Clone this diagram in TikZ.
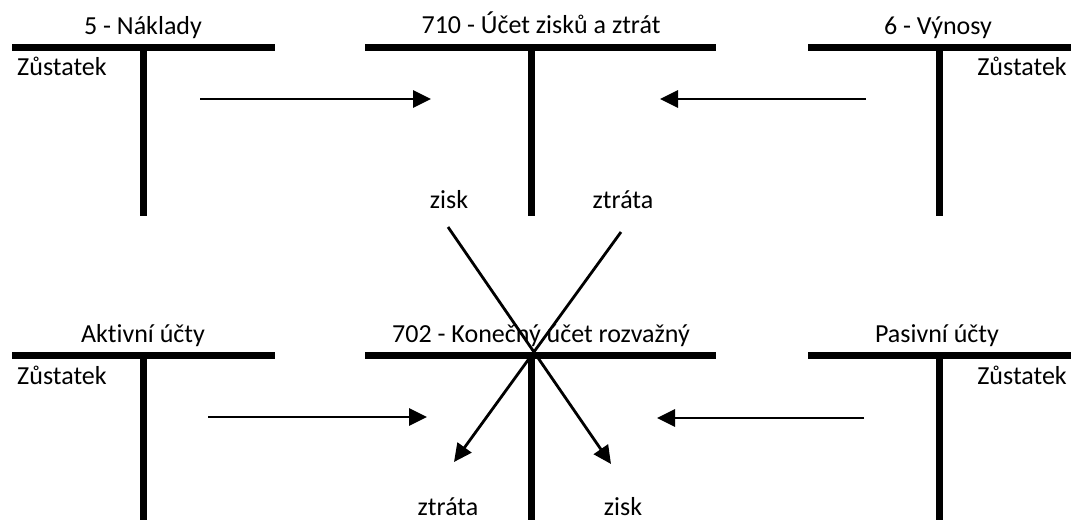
\documentclass[tikz,border=0pt]{standalone}
\usepackage{fontspec}
\setmainfont[Ligatures=NoCommon]{Carlito}
\usetikzlibrary{arrows.meta}
\begin{document}
\begin{tikzpicture}[x=1pt,y=-1pt,
  tbar/.style={line width=7pt},
  flow/.style={line width=2.8pt,-{Triangle[length=18pt,width=17pt]}},
  lbl/.style={anchor=base,inner sep=0pt,font=\fontsize{26}{30}\selectfont}]
\useasboundingbox (0,0) rectangle (1071,520);

% T-accounts: crossbar and stem
\draw[tbar] (12,47) -- (275,47) (143,47) -- (143,216);
\draw[tbar] (365,47) -- (716,47) (531,47) -- (531,216);
\draw[tbar] (808,47) -- (1071,47) (939,47) -- (939,216);
\draw[tbar] (12,355) -- (275,355) (143,355) -- (143,520);
\draw[tbar] (365,355) -- (716,355) (531,355) -- (531,520);
\draw[tbar] (808,355) -- (1071,355) (939,355) -- (939,520);

% account titles
\node[lbl] (naklady) at (143,34) {5 - Náklady};
\node[lbl] (vzz) at (541,33) {710 - Účet zisků a ztrát};
\node[lbl] (vynosy) at (938,34) {6 - Výnosy};
\node[lbl] (aktiva) at (143,342) {Aktivní účty};
\node[lbl] (kur) at (541,342) {702 - Konečný účet rozvažný};
\node[lbl] (pasiva) at (937,342) {Pasivní účty};

% balances
\node[lbl,anchor=base west] (z1) at (17,75) {Zůstatek};
\node[lbl,anchor=base east] (z2) at (1067,75) {Zůstatek};
\node[lbl,anchor=base west] (z3) at (17,384) {Zůstatek};
\node[lbl,anchor=base east] (z4) at (1067,384) {Zůstatek};

% result labels
\node[lbl] (ziskA) at (449,208) {zisk};
\node[lbl] (ztrataA) at (623,208) {ztráta};
\node[lbl] (ztrataB) at (448,515) {ztráta};
\node[lbl] (ziskB) at (623,515) {zisk};

% arrow ends
\coordinate (a1s) at (200,99);  \coordinate (a1e) at (431,99);
\coordinate (a2s) at (866,99);  \coordinate (a2e) at (660,99);
\coordinate (a3s) at (208,417); \coordinate (a3e) at (427,417);
\coordinate (a4s) at (864,418); \coordinate (a4e) at (657,418);
\coordinate (d1s) at (448,227); \coordinate (d1e) at (611,464);
\coordinate (d2s) at (621,232); \coordinate (d2e) at (454,462);

\draw[flow] (a1s) -- (a1e);
\draw[flow] (a2s) -- (a2e);
\draw[flow] (a3s) -- (a3e);
\draw[flow] (a4s) -- (a4e);
\draw[flow] (d1s) -- (d1e);
\draw[flow] (d2s) -- (d2e);
\end{tikzpicture}
\end{document}
